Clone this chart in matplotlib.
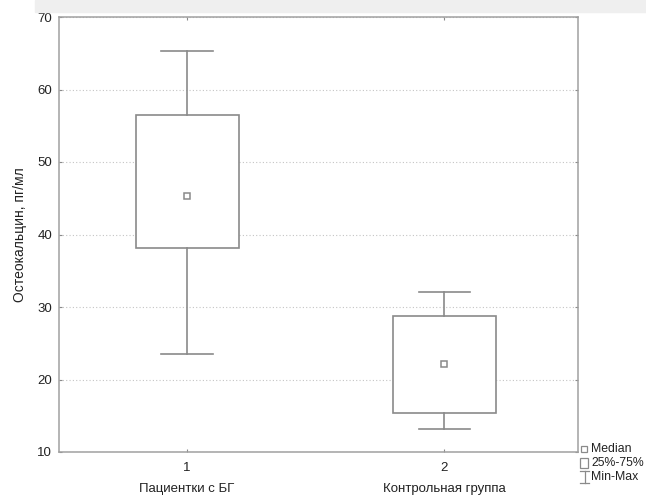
import numpy as np
import matplotlib
matplotlib.use("Agg")
import matplotlib.pyplot as plt
from matplotlib.patches import Rectangle

plt.rcParams['font.family'] = ['Liberation Sans', 'DejaVu Sans']

# data
groups = ['Пациентки с БГ', 'Контрольная группа']
tick_nums = ['1', '2']
medians = [45.3, 22.1]
q1 = [38.2, 15.4]
q3 = [56.5, 28.7]
mins = [23.5, 13.2]
maxs = [65.3, 32.1]
yticks = [10, 20, 30, 40, 50, 60, 70]

col = '#8a8a8a'
txt = '#222222'
fig = plt.figure(figsize=(6.46, 5.03), dpi=100)
fig.patches.append(Rectangle((35 / 646, 1 - 12 / 503), 1, 12 / 503,
                             transform=fig.transFigure, color='#efefef', zorder=0))
ax = fig.add_axes([59 / 646, 51 / 503, 519 / 646, 435 / 503])

stats = []
for i in range(len(groups)):
    stats.append(dict(med=medians[i], q1=q1[i], q3=q3[i], whislo=mins[i],
                      whishi=maxs[i], mean=medians[i], label=tick_nums[i]))
pos = np.arange(1, len(groups) + 1)
ax.bxp(stats, positions=pos, widths=0.40, patch_artist=True, showmeans=True,
       showfliers=False,
       boxprops=dict(facecolor='white', edgecolor=col, linewidth=1.2),
       whiskerprops=dict(color=col, linewidth=1.2),
       capprops=dict(color=col, linewidth=1.2),
       medianprops=dict(linewidth=0),
       meanprops=dict(marker='s', markerfacecolor='white', markeredgecolor=col,
                      markersize=5, markeredgewidth=1.1),
       capwidths=0.2, zorder=3)

ax.set_xlim(0.502, 2.52)
ax.set_ylim(10, 70)
ax.set_yticks(yticks)
ax.set_xticks(pos)
ax.set_xticklabels(tick_nums)
ax.yaxis.grid(True, linestyle=(0, (1, 2)), color='#c4c4c4', linewidth=0.8, zorder=0)
ax.set_axisbelow(True)
ax.tick_params(direction='in', length=2, width=0.8, color=col, labelsize=9.5,
               labelcolor=txt, top=True, right=True)
ax.tick_params(axis='y', pad=5)
ax.tick_params(axis='x', pad=7)
for s in ax.spines.values():
    s.set_color('#a0a0a0')
    s.set_linewidth(1.1)

for p, g in zip(pos, groups):
    ax.text(p, -0.085, g, transform=ax.get_xaxis_transform(), ha='center',
            va='center', fontsize=9.5, color=txt)
ax.set_ylabel('Остеокальцин, пг/мл', fontsize=10, color=txt, labelpad=7)

# legend outside the plot at bottom right
lx = 591 / 646
fig.text(lx, 1 - 449 / 503, 'Median', fontsize=8.8, va='center', color=txt)
fig.text(lx, 1 - 463 / 503, '25%-75%', fontsize=8.8, va='center', color=txt)
fig.text(lx, 1 - 477 / 503, 'Min-Max', fontsize=8.8, va='center', color=txt)
fig.lines.append(plt.Line2D([584 / 646], [1 - 449 / 503], transform=fig.transFigure,
                            marker='s', markersize=4, markerfacecolor='white',
                            markeredgecolor=col, markeredgewidth=0.9))
fig.patches.append(Rectangle((580 / 646, 1 - 468 / 503), 8 / 646, 10 / 503,
                             transform=fig.transFigure, facecolor='white',
                             edgecolor=col, linewidth=0.9))
for yy in (471, 483):
    fig.lines.append(plt.Line2D([580 / 646, 589 / 646], [1 - yy / 503] * 2,
                                transform=fig.transFigure, color=col, linewidth=0.9))
fig.lines.append(plt.Line2D([584.5 / 646] * 2, [1 - 471 / 503, 1 - 483 / 503],
                            transform=fig.transFigure, color=col, linewidth=0.9))

fig.savefig('out.png', dpi=100)
